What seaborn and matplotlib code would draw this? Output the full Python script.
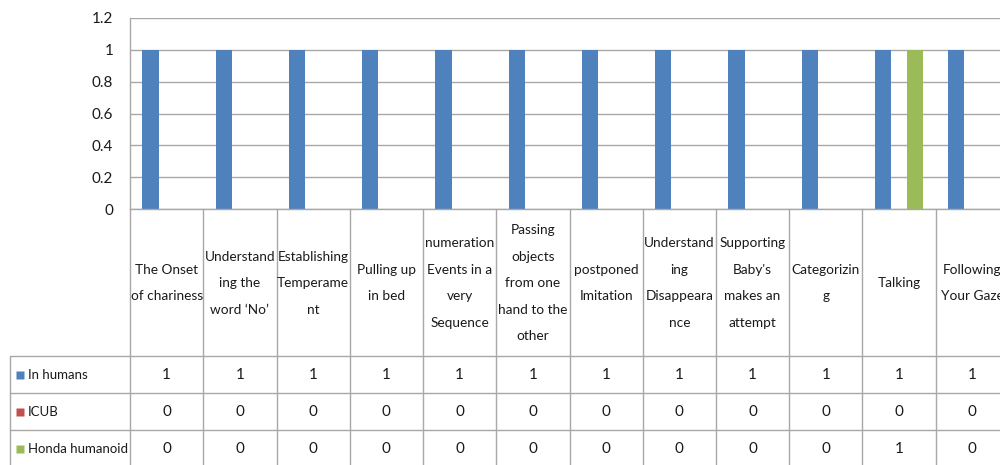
import matplotlib
matplotlib.use("Agg")
import numpy as np
import pandas as pd
import matplotlib.pyplot as plt
import seaborn as sns

# category names (wrapped the way the data table shows them)
categories = [
    "The Onset\nof chariness",
    "Understand\ning the\nword \u2018No\u2019",
    "Establishing\nTemperame\nnt",
    "Pulling up\nin bed",
    "numeration\nEvents in a\nvery\nSequence",
    "Passing\nobjects\nfrom one\nhand to the\nother",
    "postponed\nImitation",
    "Understand\ning\nDisappeara\nnce",
    "Supporting\nBaby's\nmakes an\nattempt",
    "Categorizin\ng",
    "Talking",
    "Following\nYour Gaze",
]
series = ["In humans", "ICUB", "Honda humanoid"]
in_humans = [1, 1, 1, 1, 1, 1, 1, 1, 1, 1, 1, 1]
icub = [0, 0, 0, 0, 0, 0, 0, 0, 0, 0, 0, 0]
honda = [0, 0, 0, 0, 0, 0, 0, 0, 0, 0, 1, 0]
yticks = [0, 0.2, 0.4, 0.6, 0.8, 1.0, 1.2]

colors = ["#4F81BD", "#C0504D", "#9BBB59"]
grid_c = "#a8a8a8"
txt_c = "#1a1a1a"

values = [in_humans, icub, honda]
df = pd.DataFrame({
    "category": categories * 3,
    "series": [s for s in series for _ in categories],
    "value": in_humans + icub + honda,
})

sns.set_style("white")
plt.rcParams["font.family"] = ["Lato", "DejaVu Sans"]
fs = 9.8

fig = plt.figure(figsize=(10, 4.65), dpi=100)
ax = fig.add_axes([0.13, 0.5505, 0.879, 0.4108])
sns.barplot(data=df, x="category", y="value", hue="series", hue_order=series,
            order=categories, palette=colors, width=0.66, gap=0, saturation=1,
            linewidth=0, legend=False, ax=ax)
ax.set_xlim(-0.5, len(categories) - 0.5)
ax.set_ylim(0, 1.2)
ax.set_yticks(yticks)
ax.set_yticklabels([f"{v:g}" for v in yticks], fontsize=11, color=txt_c)
ax.tick_params(axis="y", length=0, pad=12)
ax.set_xticks([])
ax.set_xlabel("")
ax.set_ylabel("")
ax.grid(axis="y", color=grid_c, lw=1)
ax.set_axisbelow(True)
for s in ["top", "right"]:
    ax.spines[s].set_visible(False)
for s in ["left", "bottom"]:
    ax.spines[s].set_color(grid_c)
    ax.spines[s].set_linewidth(1)

# data table under the chart
tax = fig.add_axes([0.13, 0.0, 0.879, 0.5505])
tax.set_xlim(-0.5, len(categories) - 0.5)
tax.set_ylim(465, 209)
tax.axis("off")

def px2x(px):
    return -0.5 + (px - 130) / 73.25

left = px2x(10)
n = len(categories)
rows_y = [356, 393, 430, 467]
for k in range(n + 1):
    tax.plot([k - 0.5, k - 0.5], [209, 467], color=grid_c, lw=1, clip_on=False)
tax.plot([left, left], [356, 467], color=grid_c, lw=1, clip_on=False)
for y in rows_y:
    tax.plot([left, n + 0.5], [y, y], color=grid_c, lw=1, clip_on=False)

for i, lab in enumerate(categories):
    tax.text(i, 283, lab, ha="center", va="center", fontsize=fs,
             linespacing=2.45, color=txt_c, clip_on=False)

for r, (name, vals) in enumerate(zip(series, values)):
    yc = (rows_y[r] + rows_y[r + 1]) / 2
    tax.plot([px2x(19.5)], [yc], marker="s", ms=5.2, color=colors[r],
             mec="none", clip_on=False)
    tax.text(px2x(27.5), yc, name, ha="left", va="center", fontsize=9.5,
             color=txt_c, clip_on=False)
    for i, v in enumerate(vals):
        tax.text(i, yc, f"{v}", ha="center", va="center", fontsize=11,
                 color=txt_c, clip_on=False)

fig.savefig("out.png", dpi=100)
